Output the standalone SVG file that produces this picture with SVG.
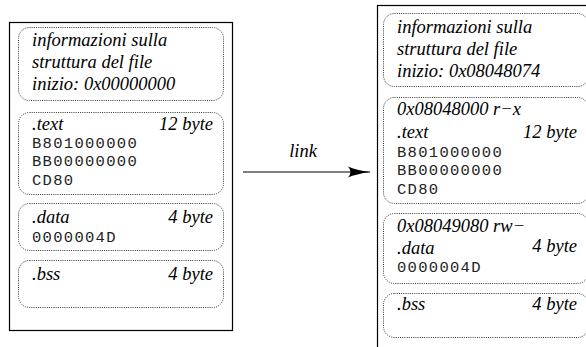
<svg xmlns="http://www.w3.org/2000/svg" width="586" height="347" viewBox="0 0 586 347">
<defs>
<style>
.outer{fill:#fff;stroke:#000;stroke-width:1.2}
.box{fill:none;stroke:#333;stroke-width:1;stroke-dasharray:1 1.2}
.it{font-family:"Liberation Serif",serif;font-style:italic;font-size:18.5px;fill:#000}
.mono{font-family:"Liberation Mono",monospace;font-size:15.5px;letter-spacing:1.3px;fill:#222}
.r{text-anchor:end}
.conn{stroke:#000;stroke-width:1.2;fill:none}
</style>
<marker id="ah" markerWidth="24" markerHeight="14" refX="22" refY="7" orient="auto" markerUnits="userSpaceOnUse">
<path d="M0,1.5 Q8,5 22,7 Q8,9 0,12.5 Q5,7 0,1.5 Z" fill="#000"/>
</marker>
</defs>
<rect width="586" height="347" fill="#fff"/>

<g id="file-object">
<rect class="outer" x="9.5" y="22.5" width="223" height="308"/>
<g id="obj-header">
<rect class="box" x="18.5" y="27.5" width="205" height="73" rx="11"/>
<text class="it" x="32" y="46">informazioni sulla</text>
<text class="it" x="32" y="68">struttura del file</text>
<text class="it" x="32" y="90">inizio: 0x00000000</text>
</g>
<g id="obj-text">
<rect class="box" x="18.5" y="112.5" width="205" height="82" rx="11"/>
<text class="it" x="32" y="130">.text</text>
<text class="it r" x="213" y="130">12 byte</text>
<text class="mono" x="32" y="148">B801000000</text>
<text class="mono" x="32" y="166">BB00000000</text>
<text class="mono" x="32" y="185">CD80</text>
</g>
<g id="obj-data">
<rect class="box" x="18.5" y="203.5" width="205" height="47" rx="11"/>
<text class="it" x="32" y="223">.data</text>
<text class="it r" x="213" y="223">4 byte</text>
<text class="mono" x="32" y="242">0000004D</text>
</g>
<g id="obj-bss">
<rect class="box" x="18.5" y="260.5" width="205" height="47" rx="11"/>
<text class="it" x="32" y="280">.bss</text>
<text class="it r" x="213" y="280">4 byte</text>
</g>
</g>

<g id="connectors">
<line class="conn" x1="243" y1="172" x2="370" y2="172" marker-end="url(#ah)"/>
<text class="it" x="303" y="157" text-anchor="middle">link</text>
</g>

<g id="executable">
<rect class="outer" x="377.5" y="5.5" width="223" height="360"/>
<g id="exe-header">
<rect class="box" x="383.5" y="13.5" width="205" height="73" rx="11"/>
<text class="it" x="397" y="33">informazioni sulla</text>
<text class="it" x="397" y="55">struttura del file</text>
<text class="it" x="397" y="77">inizio: 0x08048074</text>
</g>
<g id="exe-text">
<rect class="box" x="383.5" y="97.5" width="205" height="106" rx="11"/>
<text class="it" x="397" y="115">0x08048000 r−x</text>
<text class="it" x="397" y="138">.text</text>
<text class="it r" x="577" y="138">12 byte</text>
<text class="mono" x="397" y="157">B801000000</text>
<text class="mono" x="397" y="175">BB00000000</text>
<text class="mono" x="397" y="194">CD80</text>
</g>
<g id="exe-data">
<rect class="box" x="383.5" y="213.5" width="205" height="70" rx="11"/>
<text class="it" x="397" y="232">0x08049080 rw−</text>
<text class="it" x="397" y="254">.data</text>
<text class="it r" x="577" y="252">4 byte</text>
<text class="mono" x="397" y="272">0000004D</text>
</g>
<g id="exe-bss">
<rect class="box" x="383.5" y="293.5" width="205" height="44" rx="11"/>
<text class="it" x="397" y="310">.bss</text>
<text class="it r" x="577" y="310">4 byte</text>
</g>
</g>
</svg>
